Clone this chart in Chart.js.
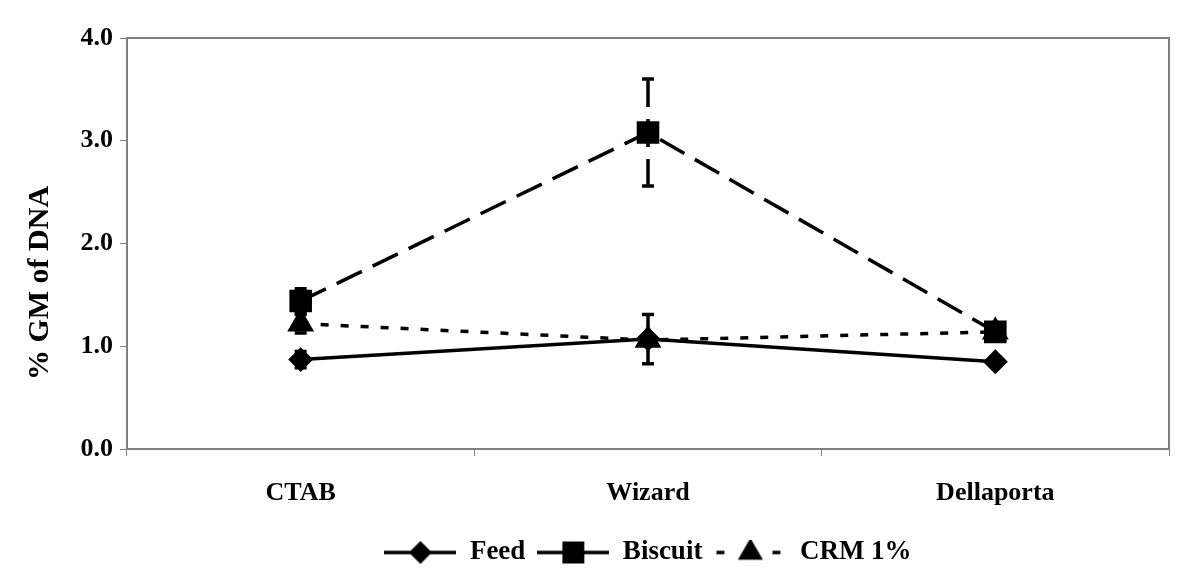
<!DOCTYPE html>
<html>
<head>
<meta charset="utf-8">
<script src="https://cdn.jsdelivr.net/npm/chart.js@4"></script>
<style>
  html, body { margin: 0; padding: 0; background: #fff; }
  #wrap { width: 1200px; height: 576px; }
</style>
</head>
<body>
<div id="wrap"><canvas id="myChart" width="1200" height="576"></canvas></div>
<script>
// values
const methods = ['CTAB', 'Wizard', 'Dellaporta'];
const feed = [0.87, 1.07, 0.85];
const feedErr = [0.08, 0.24, 0.03];
const biscuit = [1.44, 3.08, 1.14];
const biscuitErr = [0.12, 0.52, 0.03];
const crm = [1.22, 1.06, 1.14];
const crmErr = [0.09, 0.05, 0.02];
const yTicks = [0, 1, 2, 3, 4];
const yTitle = '% GM of DNA';

const FONT = '"Liberation Serif", "Times New Roman", serif';
const GREY = '#808080';

// legend sample: line with marker in the middle
function legendSample(style, dash, radius) {
  const c = document.createElement('canvas');
  c.width = 72; c.height = 26;
  const g = c.getContext('2d');
  g.strokeStyle = '#000';
  g.fillStyle = '#000';
  g.lineWidth = 3.5;
  g.setLineDash(dash);
  if (dash.length) g.lineDashOffset = -2;
  g.beginPath(); g.moveTo(0, 13); g.lineTo(72, 13); g.stroke();
  g.setLineDash([]);
  Chart.helpers.drawPoint(g, {pointStyle: style, radius: radius, borderWidth: 1}, 36, 13);
  return c;
}

const errors = [feedErr, biscuitErr, crmErr];

const errorBars = {
  id: 'errorBars',
  afterDatasetsDraw(chart) {
    const ctx = chart.ctx;
    const y = chart.scales.y;
    chart.data.datasets.forEach((ds, i) => {
      const meta = chart.getDatasetMeta(i);
      ctx.save();
      ctx.strokeStyle = '#000';
      ctx.lineWidth = 3.5;
      meta.data.forEach((pt, j) => {
        const e = errors[i][j];
        const top = y.getPixelForValue(ds.data[j] + e);
        const bot = y.getPixelForValue(ds.data[j] - e);
        ctx.setLineDash(ds.borderDash || []);
        ctx.beginPath(); ctx.moveTo(pt.x, top); ctx.lineTo(pt.x, bot); ctx.stroke();
        ctx.setLineDash([]);
        ctx.beginPath();
        ctx.moveTo(pt.x - 6, top); ctx.lineTo(pt.x + 6, top);
        ctx.moveTo(pt.x - 6, bot); ctx.lineTo(pt.x + 6, bot);
        ctx.stroke();
      });
      ctx.restore();
    });
  }
};

const plotBorder = {
  id: 'plotBorder',
  afterLayout(chart) {
    // centre the legend under the plot area, like the original
    chart.legend.left = chart.chartArea.left;
    chart.legend.right = chart.chartArea.right;
  },
  beforeDatasetsDraw(chart) {
    const a = chart.chartArea;
    const ctx = chart.ctx;
    ctx.save();
    ctx.strokeStyle = GREY;
    ctx.lineWidth = 2;
    ctx.strokeRect(a.left, a.top, a.right - a.left, a.bottom - a.top);
    ctx.restore();
  },
  afterDraw(chart) {
    const ctx = chart.ctx;
    ctx.save();
    ctx.translate(40, 283);
    ctx.rotate(-Math.PI / 2);
    ctx.fillStyle = '#000';
    ctx.font = 'bold 30px ' + FONT;
    ctx.textAlign = 'center';
    ctx.textBaseline = 'middle';
    ctx.fillText(yTitle, 0, 0);
    ctx.restore();
  }
};

const ctx = document.getElementById('myChart').getContext('2d');
const myChart = new Chart(ctx, {
  type: 'line',
  data: {
    labels: methods,
    datasets: [{
      label: 'Feed',
      data: feed,
      borderColor: '#000',
      backgroundColor: '#000',
      borderWidth: 3.5,
      pointStyle: 'rectRot',
      pointRadius: 10,
      pointBackgroundColor: '#000',
      pointBorderColor: '#000',
      legendStyle: legendSample('rectRot', [], 9)
    }, {
      label: 'Biscuit',
      data: biscuit,
      borderColor: '#000',
      backgroundColor: '#000',
      borderWidth: 3.5,
      borderDash: [28, 12],
      pointStyle: 'rect',
      pointRadius: 13.5,
      pointBackgroundColor: '#000',
      pointBorderColor: '#000',
      legendStyle: legendSample('rect', [], 13)
    }, {
      label: 'CRM 1%',
      data: crm,
      borderColor: '#000',
      backgroundColor: '#000',
      borderWidth: 3.5,
      borderDash: [8, 12],
      pointStyle: 'triangle',
      pointRadius: 12,
      pointBackgroundColor: '#000',
      pointBorderColor: '#000',
      legendStyle: legendSample('triangle', [8, 20], 11)
    }]
  },
  options: {
    responsive: false,
    animation: false,
    layout: { padding: { left: 0, right: 31, top: 38, bottom: 0 } },
    plugins: {
      tooltip: { enabled: false },
      legend: {
        position: 'bottom',
        labels: {
          usePointStyle: true,
          pointStyleWidth: 72,
          padding: 12,
          color: '#000',
          font: { family: FONT, size: 27, weight: 'bold' },
          generateLabels(chart) {
            return chart.data.datasets.map((ds, i) => ({
              text: ds.label,
              pointStyle: ds.legendStyle,
              fillStyle: '#000',
              strokeStyle: '#000',
              lineWidth: 0,
              fontColor: '#000',
              datasetIndex: i
            }));
          }
        }
      }
    },
    scales: {
      x: {
        offset: true,
        grid: { offset: true, drawOnChartArea: false, drawTicks: true, tickLength: 7, color: GREY },
        border: { display: false },
        ticks: { color: '#000', padding: 22, font: { family: FONT, size: 26, weight: 'bold' } },
        afterFit(scale) { scale.height = 78; }
      },
      y: {
        min: 0,
        max: 4,
        afterBuildTicks(scale) { scale.ticks = yTicks.map(v => ({ value: v })); },
        grid: { drawOnChartArea: false, drawTicks: true, tickLength: 7, color: GREY },
        border: { display: false },
        ticks: {
          color: '#000',
          padding: 7,
          font: { family: FONT, size: 26, weight: 'bold' },
          callback: v => v.toFixed(1)
        },
        afterFit(scale) { scale.width = 127; }
      }
    }
  },
  plugins: [plotBorder, errorBars]
});
</script>
</body>
</html>
